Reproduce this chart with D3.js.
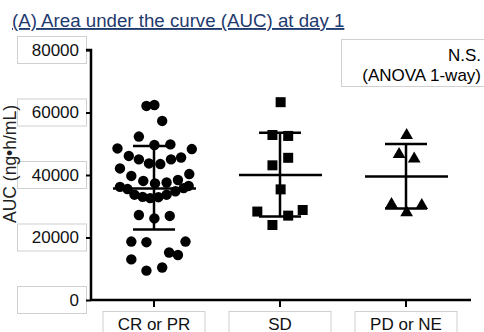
<!DOCTYPE html>
<html>
<head>
<meta charset="utf-8">
<title>AUC at day 1</title>
<script src="https://cdn.jsdelivr.net/npm/d3@7"></script>
<style>
  body{margin:0;background:#fff;}
  svg{display:block;font-family:Arial,"Liberation Sans",sans-serif;}
  .box{fill:#fff;stroke:#d0d0d0;stroke-width:1;}
</style>
</head>
<body>
<div id="chart"></div>
<script>
var categories = ["CR or PR", "SD", "PD or NE"];
var yTicks = [0, 20000, 40000, 60000, 80000];

// individual AUC values
var crValues = [62100, 62400, 57300, 52300, 48500, 49600, 49800, 48300, 46100, 45000,
                43700, 43500, 45000, 45600, 42100, 39700, 38100, 37300, 37600, 38400,
                40300, 36200, 35500, 33700, 33000, 32600, 32900, 33700, 34800, 35800,
                36500, 27200, 26100, 26900, 18700, 18500, 18700, 15200, 14400, 13000,
                9400, 10400];
// small horizontal spread offsets (in category units) for the scatter
var crJitter = [-0.06, 0.003, 0.065, -0.12, -0.29, 0.003, 0.13, 0.3, -0.2, -0.12,
                -0.04, 0.05, 0.135, 0.215, -0.27, -0.18, -0.085, 0.008, 0.1, 0.19,
                0.28, -0.27, -0.21, -0.155, -0.09, -0.03, 0.035, 0.1, 0.17, 0.235,
                0.275, -0.12, 0.003, 0.125, -0.18, -0.06, 0.25, 0.12, 0.19, -0.18,
                -0.06, 0.065];
var sdValues = [63300, 52800, 52500, 45500, 43100, 35400, 28300, 28800, 27000, 24000];
var sdJitter = [0.005, -0.06, 0.065, 0.065, -0.06, 0.005, -0.18, 0.18, 0.065, -0.06];
var pdValues = [53000, 46900, 45500, 30900, 30600, 28300];
var pdJitter = [0.005, -0.055, 0.065, -0.115, 0.125, 0.005];

// mean and SD bars as drawn
var means = [35700, 40000, 39500];
var sdTop = [49300, 53500, 49900];
var sdBottom = [22600, 26700, 29300];

var W = 484, H = 332;
var svg = d3.select("#chart").append("svg").attr("width", W).attr("height", H);

var y = d3.scaleLinear().domain([0, 80000]).range([300, 50]);
var x = d3.scaleBand().domain(categories).range([91, 469]).padding(0);
var step = x.step();
function cx(i){ return x(categories[i]) + x.bandwidth() / 2; }

// title
svg.append("text").attr("x", 12).attr("y", 27)
  .attr("font-size", 18.7).attr("fill", "#1f3a6e")
  .attr("text-decoration", "underline")
  .text("(A) Area under the curve (AUC) at day 1");

// N.S. box
svg.append("rect").attr("class", "box").attr("x", 341.5).attr("y", 39.5).attr("width", 150).attr("height", 47);
svg.append("text").attr("x", 481).attr("y", 61).attr("text-anchor", "end").attr("font-size", 17).text("N.S.");
svg.append("text").attr("x", 481).attr("y", 81).attr("text-anchor", "end").attr("font-size", 17).text("(ANOVA 1-way)");

// y tick label boxes
yTicks.forEach(function(t){
  svg.append("rect").attr("class", "box").attr("x", 17.5).attr("y", y(t) - 13.5).attr("width", 69).attr("height", 27);
});

// y axis label
svg.append("text").attr("transform", "translate(16,164) rotate(-90)")
  .attr("text-anchor", "middle").attr("font-size", 17.5).attr("fill", "#222")
  .text("AUC (ng\u2022h/mL)");

var yAxis = d3.axisLeft(y).tickValues(yTicks).tickSize(5).tickPadding(7).tickFormat(d3.format("d"));
var gy = svg.append("g").attr("transform", "translate(91,0)").call(yAxis);
gy.select(".domain").attr("stroke-width", 2.5).attr("d", "M-5,50H0V300");
gy.selectAll(".tick line").attr("stroke-width", 2);
gy.selectAll(".tick text").attr("font-size", 17).attr("fill", "#111").attr("font-family", "Arial,'Liberation Sans',sans-serif");

// x category boxes
categories.forEach(function(c, i){
  svg.append("rect").attr("class", "box").attr("x", cx(i) - 51).attr("y", 311.5).attr("width", 102).attr("height", 30);
});
var xAxis = d3.axisBottom(x).tickSize(7).tickPadding(11);
var gx = svg.append("g").attr("transform", "translate(0,300)").call(xAxis);
gx.select(".domain").attr("stroke-width", 2.5).attr("d", "M91,0H471");
gx.selectAll(".tick line").attr("stroke-width", 2);
gx.selectAll(".tick text").attr("font-size", 17).attr("fill", "#111").attr("font-family", "Arial,'Liberation Sans',sans-serif");

// points
var groups = [
  {vals: crValues, jit: crJitter, shape: d3.symbolCircle, size: 85},
  {vals: sdValues, jit: sdJitter, shape: d3.symbolSquare, size: 100},
  {vals: pdValues, jit: pdJitter, shape: d3.symbolTriangle, size: 70}
];
groups.forEach(function(g, i){
  svg.append("g").selectAll("path").data(g.vals).join("path")
    .attr("d", d3.symbol().type(g.shape).size(g.size))
    .attr("transform", function(d, k){
      var dy = g.shape === d3.symbolTriangle ? 1 : 0;
      return "translate(" + (cx(i) + g.jit[k] * step) + "," + (y(d) + dy) + ")";
    })
    .attr("fill", "#000");
});

// mean and SD bars
var bars = svg.append("g").attr("stroke", "#000").attr("stroke-width", 2.5).attr("fill", "none");
categories.forEach(function(c, i){
  var m = cx(i);
  bars.append("line").attr("x1", m - 41).attr("x2", m + 42).attr("y1", y(means[i])).attr("y2", y(means[i]));
  bars.append("line").attr("x1", m).attr("x2", m).attr("y1", y(sdTop[i])).attr("y2", y(sdTop[i]) + (y(sdBottom[i]) - y(sdTop[i])));
  bars.append("line").attr("x1", m - 21).attr("x2", m + 21).attr("y1", y(sdTop[i])).attr("y2", y(sdTop[i]));
  bars.append("line").attr("x1", m - 21).attr("x2", m + 21).attr("y1", y(sdBottom[i])).attr("y2", y(sdBottom[i]));
});
</script>
</body>
</html>
